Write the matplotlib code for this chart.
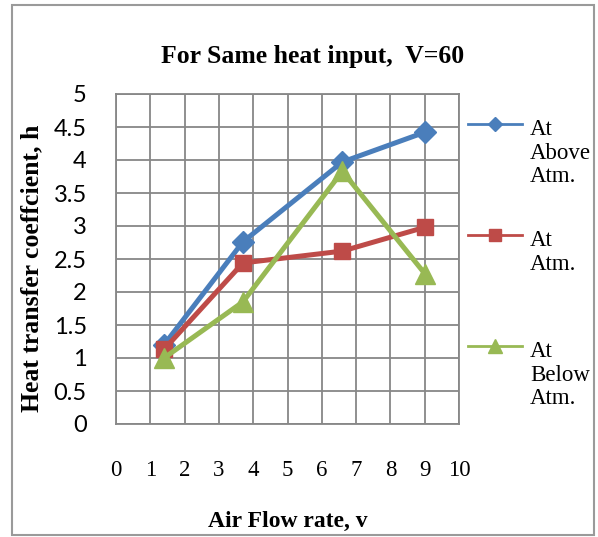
import matplotlib
matplotlib.use("Agg")
import matplotlib.pyplot as plt
from matplotlib.lines import Line2D
from matplotlib.patches import Rectangle

# Data
air_flow = [1.4, 3.7, 6.6, 9.0]
h_above = [1.2, 2.76, 3.97, 4.42]
h_atm = [1.13, 2.44, 2.62, 2.98]
h_below = [1.0, 1.85, 3.83, 2.28]
series_labels = ["At\nAbove\nAtm.", "At\nAtm.", "At\nBelow\nAtm."]
x_ticks = list(range(0, 11))
y_ticks = [0, 0.5, 1, 1.5, 2, 2.5, 3, 3.5, 4, 4.5, 5]
y_tick_labels = ["0", "0.5", "1", "1.5", "2", "2.5", "3", "3.5", "4", "4.5", "5"]

W, H = 598, 537
dpi = 100
fig = plt.figure(figsize=(W / dpi, H / dpi), dpi=dpi)
fig.patch.set_facecolor("white")

def fx(px):
    return px / W

def fy(py):
    return 1 - py / H

ax = fig.add_axes([fx(116), fy(424), fx(459) - fx(116), fy(94) - fy(424)])

serif = "Liberation Serif"
blue = "#4A7EBB"
red = "#BE4B48"
green = "#98B954"
grid_c = "#878787"

ax.plot(air_flow, h_above, color=blue, lw=3.6, marker="D", ms=11, zorder=3)
ax.plot(air_flow, h_atm, color=red, lw=3.6, marker="s", ms=11.5, zorder=4)
ax.plot(air_flow, h_below, color=green, lw=3.6, marker="^", ms=14.5, zorder=5)

ax.set_xlim(0, 10)
ax.set_ylim(0, 5)
ax.set_xticks(x_ticks)
ax.set_yticks(y_ticks)
ax.set_yticklabels(y_tick_labels)
ax.grid(True, color=grid_c, lw=1.3)
ax.set_axisbelow(True)
for s in ax.spines.values():
    s.set_color(grid_c)
    s.set_linewidth(1.3)
ax.tick_params(axis="both", length=0)
ax.tick_params(axis="x", pad=26)
ax.tick_params(axis="y", pad=21)
for t in ax.get_xticklabels():
    t.set_fontfamily(serif)
    t.set_fontsize(16.5)
for t in ax.get_yticklabels():
    t.set_fontfamily("Lato")
    t.set_fontsize(17)

fig.text(fx(313), fy(56), "For Same heat input,  V=60", ha="center", va="center",
         fontfamily=serif, fontweight="bold", fontsize=18.5)
fig.text(fx(288), fy(521), "Air Flow rate, v", ha="center", va="center",
         fontfamily=serif, fontweight="bold", fontsize=17)
fig.text(fx(32), fy(268), "Heat transfer coeffcient, h", ha="center", va="center",
         rotation=90, fontfamily=serif, fontweight="bold", fontsize=18.5)

# Legend (manual, handle aligned with first text line)
leg_items = [(blue, "D", 7, 124), (red, "s", 9, 235), (green, "^", 10, 346)]
for (c, m, ms, ypx), lab in zip(leg_items, series_labels):
    fig.add_artist(Line2D([fx(468), fx(522)], [fy(ypx), fy(ypx)], color=c, lw=2,
                          transform=fig.transFigure))
    fig.add_artist(Line2D([fx(495)], [fy(ypx)], color=c, marker=m, ms=ms, lw=0,
                          transform=fig.transFigure))
    fig.text(fx(530), fy(ypx - 5), lab, ha="left", va="top", fontfamily=serif,
             fontsize=16.5, linespacing=1.17)

# Chart frame
fig.add_artist(Rectangle((fx(12), fy(535)), fx(594) - fx(12), fy(5) - fy(535),
                         transform=fig.transFigure, fill=False, ec="#9a9a9a", lw=1.5))

fig.savefig("out.png", dpi=dpi)
